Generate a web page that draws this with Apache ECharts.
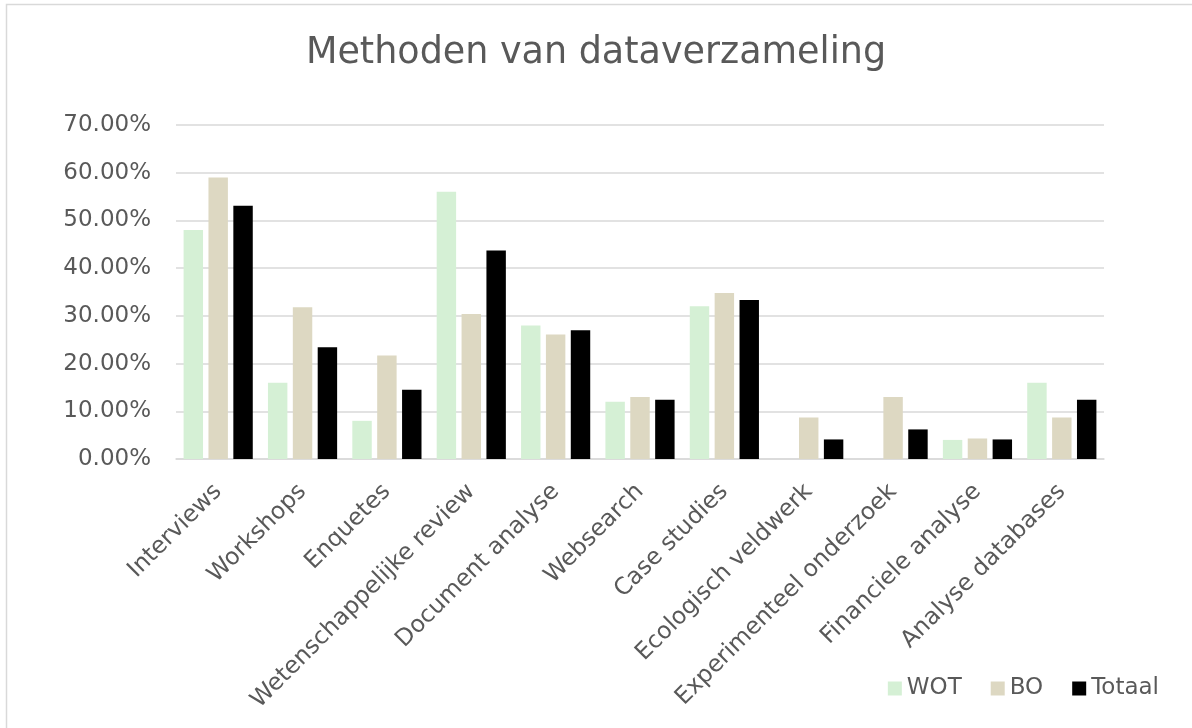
<!DOCTYPE html>
<html>
<head>
<meta charset="utf-8">
<script src="https://cdn.jsdelivr.net/npm/echarts@6/dist/echarts.min.js"></script>
<style>
html,body{margin:0;padding:0;background:#fff;}
#chart{width:1192px;height:728px;}
</style>
</head>
<body>
<div id="chart"></div>
<script>
const categories = ['Interviews','Workshops','Enquetes','Wetenschappelijke review','Document analyse','Websearch','Case studies','Ecologisch veldwerk','Experimenteel onderzoek','Financiele analyse','Analyse databases'];
const wot = [0.48, 0.16, 0.08, 0.56, 0.28, 0.12, 0.32, 0, 0, 0.04, 0.16];
const bo = [0.59, 0.318, 0.217, 0.304, 0.261, 0.13, 0.348, 0.087, 0.13, 0.043, 0.087];
const totaal = [0.531, 0.234, 0.145, 0.437, 0.27, 0.124, 0.333, 0.041, 0.062, 0.041, 0.124];
const seriesNames = ['WOT','BO','Totaal'];
const colors = ['#d5f0d5','#ddd8c2','#000000'];

const FONT = '"DejaVu Sans", Verdana, sans-serif';
const chart = echarts.init(document.getElementById('chart'));
const dataSets = [wot, bo, totaal];
chart.setOption({
  animation: false,
  backgroundColor: '#fff',
  title: {
    text: 'Methoden van dataverzameling',
    left: 'center',
    top: 35,
    padding: 0,
    textStyle: {fontFamily: FONT, fontSize: 36.5, fontWeight: 'normal', color: '#595959'}
  },
  legend: {
    right: 28,
    top: 672,
    itemWidth: 14,
    itemHeight: 14,
    itemGap: 29,
    icon: 'rect',
    textStyle: {fontFamily: FONT, fontSize: 23, color: '#595959', padding: [0,0,0,0]},
    data: seriesNames
  },
  grid: {left: 176, right: 88, top: 125, bottom: 269, containLabel: false},
  xAxis: {
    type: 'category',
    data: categories,
    axisLine: {lineStyle: {color: '#d9d9d9', width: 1.5}},
    axisTick: {show: false},
    axisLabel: {rotate: 45, margin: 29, fontFamily: FONT, fontSize: 23.5, color: '#595959', interval: 0}
  },
  yAxis: {
    type: 'value',
    min: 0, max: 0.7, interval: 0.1,
    axisLine: {show: false},
    axisTick: {show: false},
    splitLine: {lineStyle: {color: '#d9d9d9', width: 1.5}},
    axisLabel: {margin: 25, fontFamily: FONT, fontSize: 23, color: '#595959',
      formatter: v => (v*100).toFixed(2) + '%'}
  },
  series: seriesNames.map((n, i) => ({
    name: n,
    type: 'bar',
    data: dataSets[i],
    barGap: '28%',
    barCategoryGap: '18%',
    itemStyle: {color: colors[i]}
  })),
  graphic: [{
    type: 'rect',
    shape: {x: 6.5, y: 4.5, width: 1200, height: 800},
    style: {fill: 'none', stroke: '#d9d9d9', lineWidth: 1.5},
    silent: true,
    z: -1
  }]
});
</script>
</body>
</html>
